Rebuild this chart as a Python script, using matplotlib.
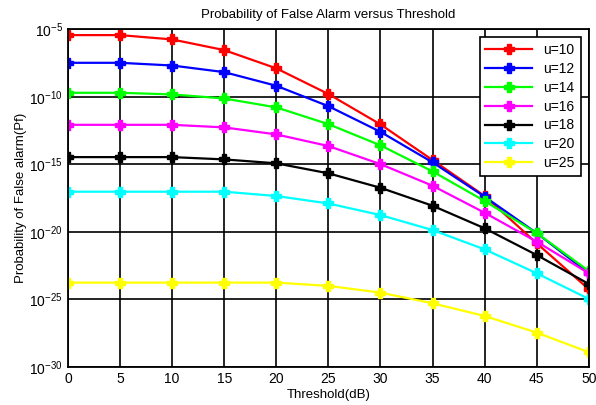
import numpy as np
import matplotlib
matplotlib.use("Agg")
import matplotlib.pyplot as plt
from matplotlib.ticker import FixedLocator, FuncFormatter, NullLocator

plt.rcParams.update({"font.family": "Liberation Sans", "font.size": 9,
                     "mathtext.fontset": "custom", "mathtext.rm": "Liberation Sans",
                     "mathtext.it": "Liberation Sans", "mathtext.bf": "Liberation Sans"})

THRESH = [0, 5, 10, 15, 20, 25, 30, 35, 40, 45, 50]
# log10 of Pf
LOG_PF = {
    "u=10": [-5.44, -5.44, -5.76, -6.55, -7.9, -9.8, -12.05, -14.69, -17.35, -20.85, -24.25],
    "u=12": [-7.49, -7.49, -7.69, -8.18, -9.19, -10.7, -12.6, -14.86, -17.4, -20.1, -23.07],
    "u=14": [-9.71, -9.71, -9.83, -10.13, -10.79, -12.03, -13.6, -15.53, -17.72, -20.1, -22.9],
    "u=16": [-12.08, -12.08, -12.08, -12.27, -12.79, -13.65, -14.99, -16.59, -18.59, -20.73, -23.07],
    "u=18": [-14.47, -14.47, -14.47, -14.64, -14.93, -15.67, -16.74, -18.07, -19.74, -21.72, -23.86],
    "u=20": [-17.03, -17.03, -17.03, -17.03, -17.35, -17.9, -18.76, -19.87, -21.3, -23.07, -24.97],
    "u=25": [-23.76, -23.76, -23.76, -23.76, -23.76, -24.0, -24.5, -25.29, -26.23, -27.46, -28.91],
}
COLORS = ["#ff0000", "#0000ff", "#00ff00", "#ff00ff", "#000000", "#00ffff", "#ffff00"]
YTICKS = [-30, -25, -20, -15, -10, -5]

fig = plt.figure(figsize=(5.96, 4.05), dpi=100)
ax = fig.add_axes([0.114, 0.094, 0.874, 0.834])

for (lab, vals), c in zip(LOG_PF.items(), COLORS):
    ax.semilogy(THRESH, 10.0 ** np.array(vals), "-", color=c, lw=1.6,
                marker="P", ms=6.5, mec=c, mfc=c, label=lab)

ax.set_xlim(0, 50)
ax.set_ylim(1e-30, 1e-5)
ax.set_xticks(THRESH)
ax.yaxis.set_major_locator(FixedLocator([10.0 ** t for t in YTICKS]))
ax.yaxis.set_minor_locator(NullLocator())
ax.yaxis.set_major_formatter(FuncFormatter(lambda v, p: f"$10^{{{int(round(np.log10(v)))}}}$"))
ax.tick_params(direction="in", length=0, labelsize=10)
ax.grid(True, color="black", lw=1.2, ls="-")
for s in ax.spines.values():
    s.set_linewidth(1.3)

ax.set_title("Probability of False Alarm versus Threshold", fontsize=9.5, pad=8)
ax.set_xlabel("Threshold(dB)", fontsize=9.5, labelpad=2)
ax.set_ylabel("Probability of False alarm(Pf)", fontsize=9.5, labelpad=2)

leg = ax.legend(loc="upper right", fontsize=10, fancybox=False, framealpha=1,
                edgecolor="black", borderaxespad=0.6, handlelength=3.4,
                labelspacing=0.35)
leg.get_frame().set_linewidth(1.2)

fig.savefig("out.png", dpi=100)
